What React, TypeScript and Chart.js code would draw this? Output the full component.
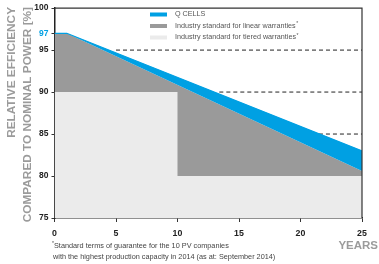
import React, { useEffect, useRef } from "react";
import { Chart, registerables } from "chart.js";

Chart.register(...registerables);

const qcYears = [0, 1, 25];
const qcValues = [97, 97, 83];
const linearYears = [0, 1, 25];
const linearValues = [97, 97, 80.6];
const tieredYears = [0, 10, 10, 25];
const tieredValues = [90, 90, 80, 80];
const dashLevels = [95, 90, 85];
const dashStarts = [5, 13.4, 21.5];
const dashEnd = 25;
const yTickValues = [75, 80, 85, 90, 95, 97, 100];
const highlightTick = 97;
const legendLabels = [
  "Q CELLS",
  "Industry standard for linear warranties",
  "Industry standard for tiered warranties",
];
const yTitleLines = ["RELATIVE EFFICIENCY", "COMPARED TO NOMINAL POWER [%]"];
const xTitle = "YEARS";
const footnoteLines = [
  "Standard terms of guarantee for the 10 PV companies",
  "with the highest production capacity in 2014 (as at: September 2014)",
];

const BLUE = "#00a0e3";
const DARK = "#9a9a9a";
const LIGHT = "#ebebeb";
const FONT = "'Liberation Sans', Arial, sans-serif";

const zip = (xs: number[], ys: number[]) => xs.map((x, i) => ({ x, y: ys[i] }));

function drawStarText(ctx: CanvasRenderingContext2D, text: string, x: number, y: number, size: number, starBefore: boolean, starAfter: boolean) {
  let cx = x;
  if (starBefore) {
    ctx.font = `${size * 0.7}px ${FONT}`;
    ctx.fillText("*", cx, y - size * 0.3);
    cx += ctx.measureText("*").width;
  }
  ctx.font = `${size}px ${FONT}`;
  ctx.fillText(text, cx, y);
  cx += ctx.measureText(text).width;
  if (starAfter) {
    ctx.font = `${size * 0.7}px ${FONT}`;
    ctx.fillText("*", cx + 0.5, y - size * 0.3);
  }
}

const decorPlugin = {
  id: "decor",
  afterDraw(chart: any) {
    const { ctx, chartArea } = chart;
    const { left, right, top, bottom } = chartArea;
    ctx.save();
    // top & right border
    ctx.strokeStyle = "#333";
    ctx.lineWidth = 1.2;
    ctx.beginPath();
    ctx.moveTo(left, top);
    ctx.lineTo(right, top);
    ctx.lineTo(right, bottom);
    ctx.stroke();

    // legend
    const colors = [BLUE, DARK, LIGHT];
    const lx = 150;
    const ly = [14.5, 26, 37.5];
    ctx.textBaseline = "middle";
    ctx.textAlign = "left";
    legendLabels.forEach((lab, i) => {
      ctx.fillStyle = colors[i];
      ctx.fillRect(lx, ly[i] - 2, 17, 4);
      ctx.fillStyle = "#555";
      drawStarText(ctx, lab, lx + 25, ly[i], 7.2, false, i > 0);
    });

    // y title
    ctx.fillStyle = "#9b9b9b";
    ctx.font = `bold 11.8px ${FONT}`;
    ctx.textAlign = "right";
    ctx.textBaseline = "middle";
    const xs = [12, 27.5];
    yTitleLines.forEach((t, i) => {
      ctx.save();
      ctx.translate(xs[i], 7);
      ctx.rotate(-Math.PI / 2);
      ctx.fillText(t, 0, 0);
      ctx.restore();
    });

    // x title
    ctx.textAlign = "right";
    ctx.font = `bold 11.5px ${FONT}`;
    ctx.fillText(xTitle, 378, 246);

    // footnote
    ctx.fillStyle = "#444";
    ctx.textAlign = "left";
    drawStarText(ctx, footnoteLines[0], 52, 246, 7.3, true, false);
    drawStarText(ctx, footnoteLines[1], 53, 256.5, 7.3, false, false);
    ctx.restore();
  },
};

export default function App() {
  const ref = useRef<HTMLCanvasElement>(null);
  useEffect(() => {
    if (!ref.current) return;
    const dashSets = dashLevels.map((lvl, i) => ({
      label: "dash" + i,
      data: [
        { x: dashStarts[i], y: lvl },
        { x: dashEnd, y: lvl },
      ],
      borderColor: "#222",
      borderWidth: 1,
      borderDash: [4, 3],
      pointRadius: 0,
      fill: false,
    }));
    const chart = new Chart(ref.current, {
      type: "line",
      data: {
        datasets: [
          {
            label: legendLabels[0],
            data: zip(qcYears, qcValues),
            borderColor: BLUE,
            borderWidth: 1.2,
            backgroundColor: BLUE,
            pointRadius: 0,
            fill: 2,
          },
          {
            label: legendLabels[2],
            data: zip(tieredYears, tieredValues),
            borderColor: LIGHT,
            borderWidth: 0,
            backgroundColor: LIGHT,
            pointRadius: 0,
            fill: "start",
          },
          {
            label: legendLabels[1],
            data: zip(linearYears, linearValues),
            borderColor: DARK,
            borderWidth: 0,
            backgroundColor: DARK,
            pointRadius: 0,
            fill: "start",
          },
          ...dashSets,
        ] as any,
      },
      options: {
        animation: false,
        responsive: true,
        maintainAspectRatio: false,
        layout: { padding: { top: 5, right: 17, left: 0, bottom: 0 } },
        plugins: {
          legend: { display: false },
          tooltip: { enabled: false },
        },
        scales: {
          x: {
            type: "linear",
            min: 0,
            max: 25,
            ticks: {
              stepSize: 5,
              color: "#222",
              font: { family: FONT, size: 8.8, weight: "bold" },
              padding: 6,
            },
            grid: { display: true, drawOnChartArea: false, drawTicks: true, tickLength: 4, color: "#333" },
            border: { display: true, color: "#222", width: 1.5 },
            afterFit: (s: any) => {
              s.height = 46;
            },
          },
          y: {
            type: "linear",
            min: 75,
            max: 100,
            afterBuildTicks: (s: any) => {
              s.ticks = yTickValues.map((v) => ({ value: v }));
            },
            ticks: {
              color: (c: any) => (c.tick && c.tick.value === highlightTick ? BLUE : "#222"),
              font: { family: FONT, size: 8.5, weight: "bold" },
              padding: 3,
            },
            grid: { display: true, drawOnChartArea: false, drawTicks: true, tickLength: 3, color: "#333" },
            border: { display: true, color: "#222", width: 1.5 },
            afterFit: (s: any) => {
              s.width = 54.5;
            },
          },
        },
      } as any,
      plugins: [decorPlugin],
    });
    return () => chart.destroy();
  }, []);
  return (
    <div style={{ position: "absolute", left: 0, top: 0, width: 379, height: 264, background: "#fff" }}>
      <canvas ref={ref} />
    </div>
  );
}
